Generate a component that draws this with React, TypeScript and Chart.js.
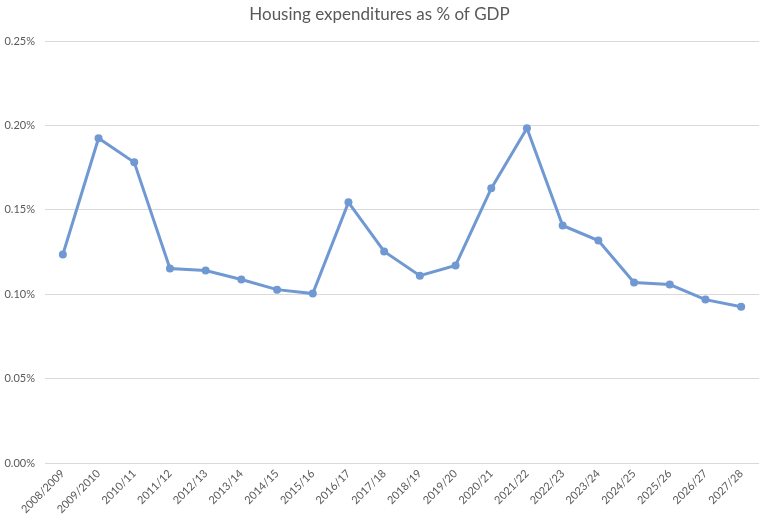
import React, { useEffect, useRef } from "react";
import { Chart, registerables } from "chart.js";

Chart.register(...registerables);

const categories = [
  "2008/2009", "2009/2010", "2010/11", "2011/12", "2012/13", "2013/14", "2014/15",
  "2015/16", "2016/17", "2017/18", "2018/19", "2019/20", "2020/21", "2021/22",
  "2022/23", "2023/24", "2024/25", "2025/26", "2026/27", "2027/28",
];

const housingPct = [
  0.1235, 0.1924, 0.1781, 0.1152, 0.1140, 0.1087, 0.1027, 0.1004, 0.1544, 0.1253,
  0.1110, 0.1170, 0.1627, 0.1983, 0.1407, 0.1318, 0.1069, 0.1057, 0.0968, 0.0926,
];

const titleText = "Housing expenditures as % of GDP";
const yMin = 0;
const yMax = 0.25;
const yStep = 0.05;

const FONT = "Lato, 'Open Sans', sans-serif";
const TEXT = "#595959";
const LINE = "#7099d3";

export default function App() {
  const ref = useRef<HTMLCanvasElement | null>(null);

  useEffect(() => {
    if (!ref.current) return;
    const chart = new Chart(ref.current, {
      type: "line",
      data: {
        labels: categories,
        datasets: [
          {
            label: "Housing",
            data: housingPct,
            borderColor: LINE,
            backgroundColor: LINE,
            borderWidth: 3,
            pointRadius: 4,
            pointBorderWidth: 0,
            pointBackgroundColor: LINE,
            tension: 0,
          },
        ],
      },
      options: {
        animation: false,
        responsive: false,
        maintainAspectRatio: false,
        layout: { padding: { left: 0, right: 9, top: 0, bottom: 0 } },
        plugins: {
          legend: { display: false },
          tooltip: { enabled: false },
          title: {
            display: true,
            text: titleText,
            fullSize: true,
            color: TEXT,
            font: { family: FONT, size: 17, weight: "normal" },
            padding: { top: 4, bottom: 16.6 },
          },
        },
        scales: {
          x: {
            offset: true,
            grid: { display: false, drawTicks: false },
            border: { display: false },
            ticks: {
              color: TEXT,
              font: { family: FONT, size: 11 },
              minRotation: 45,
              maxRotation: 45,
              autoSkip: false,
              padding: 4,
            },
            afterFit: (s: any) => {
              s.height = 57;
            },
          },
          y: {
            min: yMin,
            max: yMax,
            grid: { color: "#d9d9d9", lineWidth: 1, drawTicks: false },
            border: { display: false },
            ticks: {
              stepSize: yStep,
              color: TEXT,
              font: { family: FONT, size: 11 },
              padding: 10,
              callback: (v: any) => Number(v).toFixed(2) + "%",
            },
            afterFit: (s: any) => {
              s.width = 45;
            },
          },
        },
      },
    });
    return () => chart.destroy();
  }, []);

  return (
    <div style={{ position: "fixed", left: 0, top: 0, width: 768, height: 520, background: "#fff" }}>
      <canvas ref={ref} width={768} height={520} style={{ width: 768, height: 520 }} />
    </div>
  );
}
